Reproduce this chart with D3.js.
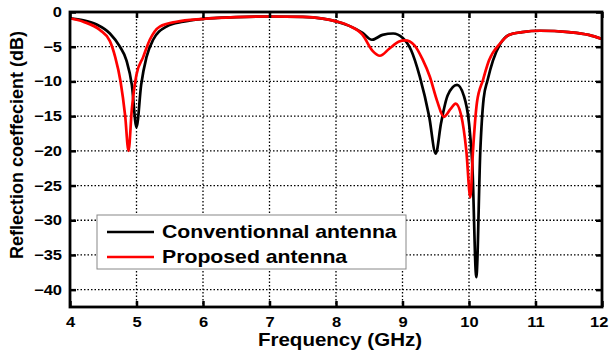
<!DOCTYPE html>
<html>
<head>
<meta charset="utf-8">
<script src="https://cdn.jsdelivr.net/npm/d3@7"></script>
<style>
  body { margin: 0; background: #fff; }
  svg text { font-family: "Liberation Sans", Arial, sans-serif; font-weight: bold; }
</style>
</head>
<body>
<div id="chart"></div>
<script>
// data
var convFreq = [4.0, 4.2, 4.4, 4.6, 4.75, 4.85, 4.93, 5.0, 5.07, 5.15, 5.25, 5.45, 5.7, 6.0, 6.5, 7.0, 7.5, 7.8, 8.0, 8.2, 8.4, 8.54, 8.7, 8.86, 9.0, 9.13, 9.26, 9.4, 9.5, 9.58, 9.68, 9.82, 9.92, 10.0, 10.05, 10.11, 10.17, 10.22, 10.28, 10.36, 10.47, 10.6, 10.8, 11.07, 11.5, 11.8, 12.0];
var convS11 = [-0.9, -1.2, -1.8, -3.1, -5.0, -7.0, -10.5, -16.6, -10.5, -6.5, -4.0, -2.1, -1.4, -1.0, -0.75, -0.65, -0.7, -0.95, -1.35, -2.0, -3.0, -4.0, -3.3, -3.1, -3.7, -5.5, -9.3, -15.0, -20.4, -16.0, -12.0, -10.5, -12.0, -16.0, -22.0, -38.2, -20.0, -12.5, -9.8, -7.0, -4.6, -3.3, -2.9, -2.7, -2.9, -3.3, -3.9];

var propFreq = [4.0, 4.2, 4.45, 4.6, 4.68, 4.76, 4.83, 4.88, 4.93, 5.0, 5.1, 5.2, 5.35, 5.6, 6.0, 6.5, 7.0, 7.5, 7.8, 8.0, 8.2, 8.4, 8.55, 8.66, 8.8, 8.94, 9.04, 9.18, 9.3, 9.41, 9.52, 9.62, 9.72, 9.8, 9.88, 9.96, 10.02, 10.06, 10.12, 10.21, 10.3, 10.47, 10.6, 10.8, 11.07, 11.5, 11.8, 12.0];
var propS11 = [-0.9, -1.4, -2.6, -4.2, -6.5, -10.0, -15.0, -20.0, -14.0, -9.0, -6.5, -4.0, -2.1, -1.4, -1.0, -0.75, -0.65, -0.7, -0.95, -1.35, -2.0, -3.3, -5.6, -6.3, -5.3, -4.3, -4.1, -4.8, -6.8, -9.3, -12.8, -15.1, -14.0, -13.2, -14.8, -20.0, -26.7, -20.0, -13.0, -9.8, -7.0, -4.5, -3.3, -2.9, -2.7, -2.9, -3.3, -3.9];

var xTicks = [4, 5, 6, 7, 8, 9, 10, 11, 12];
var yTicks = [0, -5, -10, -15, -20, -25, -30, -35, -40];
var seriesNames = ["Conventionnal antenna", "Proposed antenna"];
var seriesColors = ["#000000", "#ff0000"];

var svgWidth = 610, svgHeight = 360;
var margin = {top: 12, right: 8, bottom: 53, left: 70};
var width = svgWidth - margin.left - margin.right;
var height = svgHeight - margin.top - margin.bottom;
var stretch = 1.18; // the picture's lettering is wide

var svg = d3.select("#chart").append("svg")
  .attr("width", svgWidth)
  .attr("height", svgHeight);

var g = svg.append("g")
  .attr("transform", `translate(${margin.left},${margin.top})`);

var x = d3.scaleLinear().domain([4, 12]).range([0, width]);
var y = d3.scaleLinear().domain([-42.5, 0]).range([height, 0]);

// dotted grid
g.append("g").selectAll("line")
  .data(xTicks.slice(1, -1))
  .join("line")
  .attr("x1", d => x(d)).attr("x2", d => x(d))
  .attr("y1", 0).attr("y2", height)
  .attr("stroke", "#000").attr("stroke-width", 1.3)
  .attr("stroke-dasharray", "1.5,2");

g.append("g").selectAll("line")
  .data(yTicks.slice(1))
  .join("line")
  .attr("y1", d => y(d)).attr("y2", d => y(d))
  .attr("x1", 0).attr("x2", width)
  .attr("stroke", "#000").attr("stroke-width", 1.3)
  .attr("stroke-dasharray", "1.5,2");

// curves
var line = d3.line()
  .x(d => x(d[0]))
  .y(d => y(d[1]))
  .curve(d3.curveMonotoneX);

var series = [d3.zip(convFreq, convS11), d3.zip(propFreq, propS11)];
series.forEach(function(s, i) {
  g.append("path")
    .datum(s)
    .attr("fill", "none")
    .attr("stroke", seriesColors[i])
    .attr("stroke-width", 2.7)
    .attr("stroke-linejoin", "round")
    .attr("d", line);
});

// axes with inward ticks
var xAxis = g.append("g")
  .attr("transform", `translate(0,${height})`)
  .call(d3.axisBottom(x).tickValues(xTicks).tickSizeInner(-6).tickSizeOuter(0).tickPadding(10));
var xTop = g.append("g")
  .call(d3.axisTop(x).tickValues(xTicks).tickSizeInner(-6).tickSizeOuter(0).tickFormat(""));
var yAxis = g.append("g")
  .call(d3.axisLeft(y).tickValues(yTicks).tickSizeInner(-6).tickSizeOuter(0).tickPadding(6.8));
var yRight = g.append("g")
  .attr("transform", `translate(${width},0)`)
  .call(d3.axisRight(y).tickValues(yTicks).tickSizeInner(-6).tickSizeOuter(0).tickFormat(""));

[xAxis, xTop, yAxis, yRight].forEach(function(a) {
  a.select(".domain").remove();
  a.selectAll(".tick line").attr("stroke", "#000").attr("stroke-width", 2.5);
  a.selectAll("text")
    .attr("font-size", 14)
    .attr("fill", "#000")
    .attr("transform", `scale(${stretch},1)`);
});
// keep the last label inside the window
xAxis.selectAll(".tick text").filter(d => d === 12).attr("dx", "-0.2em");

// frame
g.append("rect")
  .attr("width", width).attr("height", height)
  .attr("fill", "none").attr("stroke", "#000").attr("stroke-width", 2.8);

// axis titles
svg.append("text")
  .attr("transform", `translate(340,346) scale(1.14,1)`)
  .attr("text-anchor", "middle")
  .attr("font-size", 18)
  .text("Frequency (GHz)");

svg.append("text")
  .attr("transform", "translate(23,145) rotate(-90)")
  .attr("text-anchor", "middle")
  .attr("font-size", 18)
  .text("Reflection coeffecient (dB)");

// legend
var legend = g.append("g").attr("transform", `translate(${97 - margin.left},${215 - margin.top})`);
legend.append("rect")
  .attr("width", 309).attr("height", 54)
  .attr("fill", "#fff").attr("stroke", "#888").attr("stroke-width", 1);
seriesNames.forEach(function(name, i) {
  var row = legend.append("g").attr("transform", `translate(0,${17 + i * 25})`);
  row.append("line")
    .attr("x1", 10).attr("x2", 57)
    .attr("stroke", seriesColors[i]).attr("stroke-width", 2.7);
  row.append("text")
    .attr("transform", `translate(65,0) scale(${stretch},1)`)
    .attr("dy", "0.35em")
    .attr("font-size", 18)
    .text(name);
});
</script>
</body>
</html>
